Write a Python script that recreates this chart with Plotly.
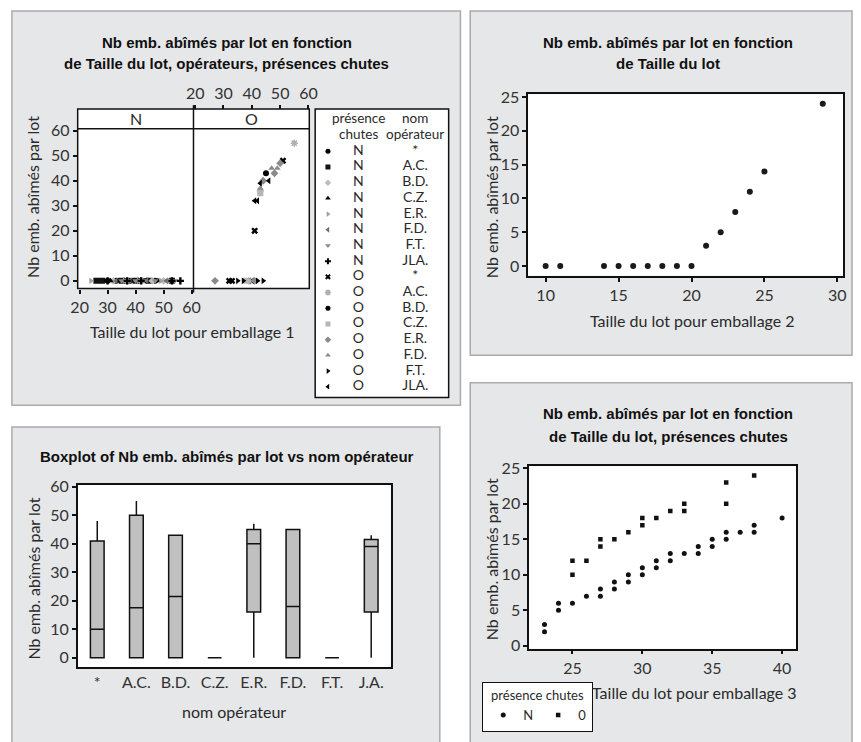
import plotly.graph_objects as go

# ---------------------------------------------------------------- data
operators = ["*", "A.C.", "B.D.", "C.Z.", "E.R.", "F.D.", "F.T.", "JLA."]

# Emballage 1, no falls (N): every lot had 0 damaged packages
p1_n_op = ["*", "*", "*", "*", "*", "*", "*",
           "A.C.", "A.C.", "A.C.", "A.C.", "A.C.", "A.C.",
           "B.D.", "B.D.", "B.D.", "B.D.", "B.D.",
           "C.Z.", "C.Z.", "C.Z.", "C.Z.", "C.Z.",
           "E.R.", "E.R.", "E.R.", "E.R.", "E.R.",
           "F.D.", "F.D.", "F.D.", "F.D.",
           "F.T.", "F.T.", "F.T.", "F.T.", "F.T.",
           "JLA.", "JLA.", "JLA.", "JLA.", "JLA."]
p1_n_size = [30, 33, 36, 38, 41, 44, 47,
             26, 28, 35, 40, 45, 53,
             32, 37, 42, 46, 50,
             31, 34, 39, 43, 48,
             24, 36, 41, 49, 52,
             33, 38, 44, 51,
             35, 40, 43, 47, 54,
             30, 37, 42, 53, 56]
p1_n_dmg = [0, 0, 0, 0, 0, 0, 0,
            0, 0, 0, 0, 0, 0,
            0, 0, 0, 0, 0,
            0, 0, 0, 0, 0,
            0, 0, 0, 0, 0,
            0, 0, 0, 0,
            0, 0, 0, 0, 0,
            0, 0, 0, 0, 0]

# Emballage 1, with falls (O)
p1_o_op = ["*", "*", "*", "*", "*",
           "A.C.", "A.C.", "A.C.",
           "B.D.",
           "C.Z.", "C.Z.",
           "E.R.", "E.R.", "E.R.", "E.R.", "E.R.",
           "F.D.", "F.D.", "F.D.",
           "F.T.", "F.T.", "F.T.", "F.T.",
           "JLA.", "JLA.", "JLA.", "JLA."]
p1_o_size = [41, 51, 32, 33, 40,
             55, 43, 39,
             45,
             43, 38,
             50, 48, 44, 27, 41,
             47, 49, 43,
             35, 37, 42, 44,
             46, 43, 42, 41]
p1_o_dmg = [20, 48, 0, 0, 0,
            55, 36, 0,
            43,
            35, 0,
            47, 43, 40, 0, 0,
            45, 45, 37,
            0, 0, 0, 0,
            40, 39, 32, 32]

# Emballage 2
p2_size = [10, 11, 14, 15, 16, 17, 18, 19, 20, 21, 22, 23, 24, 25, 29]
p2_dmg = [0, 0, 0, 0, 0, 0, 0, 0, 0, 3, 5, 8, 11, 14, 24]

# Boxplot by operator
box_ops = ["*", "A.C.", "B.D.", "C.Z.", "E.R.", "F.D.", "F.T.", "J.A."]
box_lo = [0, 0, 0, 0, 0, 0, 0, 0]
box_q1 = [0, 0, 0, 0, 16, 0, 0, 16]
box_med = [10, 17.5, 21.5, 0, 40, 18, 0, 39]
box_q3 = [41, 50, 43, 0, 45, 45, 0, 41.5]
box_hi = [48, 55, 43, 0, 47, 45, 0, 43]

# Emballage 3
p3_n_size = [23, 23, 24, 24, 25, 26, 27, 27, 28, 28, 29, 29, 30, 30, 31, 31,
             32, 32, 33, 34, 34, 35, 35, 36, 36, 37, 38, 38, 40]
p3_n_dmg = [2, 3, 5, 6, 6, 7, 7, 8, 8, 9, 9, 10, 10, 11, 11, 12,
            12, 13, 13, 13, 14, 14, 15, 15, 16, 16, 16, 17, 18]
p3_o_size = [25, 25, 26, 27, 27, 28, 29, 30, 30, 31, 32, 33, 33, 36, 36, 38]
p3_o_dmg = [10, 12, 12, 14, 15, 15, 16, 17, 18, 18, 19, 19, 20, 20, 23, 24]

# ---------------------------------------------------------------- helpers
W, H = 861, 742


def fx(p):
    return p / W


def fy(p):
    return 1 - p / H


LIGHT = "Lato, sans-serif"
BOLD = "Liberation Sans, Arial, sans-serif"
PANEL_BG = "#e6e7e8"
PANEL_EDGE = "#a9abae"
TXT = "#2a2a2a"

style_n = {"*": ("circle", "#000000"), "A.C.": ("square", "#111111"),
           "B.D.": ("diamond", "#bdbdbd"), "C.Z.": ("triangle-up", "#000000"),
           "E.R.": ("triangle-right", "#a0a0a0"), "F.D.": ("triangle-left", "#6e6e6e"),
           "F.T.": ("triangle-down", "#8a8a8a"), "JLA.": ("cross", "#000000")}
style_o = {"*": ("x", "#000000"), "A.C.": ("asterisk-open", "#b0b0b0"),
           "B.D.": ("circle", "#000000"), "C.Z.": ("square", "#b5b5b5"),
           "E.R.": ("diamond", "#8a8a8a"), "F.D.": ("triangle-up", "#8a8a8a"),
           "F.T.": ("triangle-right", "#000000"), "JLA.": ("triangle-left", "#000000")}


def marker_for(sym, col, size=6):
    m = dict(symbol=sym, color=col, size=size, line=dict(width=0, color=col))
    if sym == "asterisk-open":
        m["line"] = dict(width=1.5, color=col)
    return m


fig = go.Figure()

# ---------------------------------------------------------------- panel 1
for op in operators:
    xs = [x for o, x in zip(p1_n_op, p1_n_size) if o == op]
    ys = [y for o, y in zip(p1_n_op, p1_n_dmg) if o == op]
    sym, col = style_n[op]
    fig.add_trace(go.Scatter(x=xs, y=ys, mode="markers", xaxis="x", yaxis="y",
                             marker=marker_for(sym, col), showlegend=False,
                             hoverinfo="skip"))
for op in operators:
    xs = [x for o, x in zip(p1_o_op, p1_o_size) if o == op]
    ys = [y for o, y in zip(p1_o_op, p1_o_dmg) if o == op]
    sym, col = style_o[op]
    fig.add_trace(go.Scatter(x=xs, y=ys, mode="markers", xaxis="x2", yaxis="y2",
                             marker=marker_for(sym, col), showlegend=False,
                             hoverinfo="skip"))

# table-style key for panel 1 (symbol, presence, operator)
key_rows = [("N", op) for op in operators] + [("O", op) for op in operators]
key_idx = [-i for i in range(len(key_rows))]
for i, (pres, op) in enumerate(key_rows):
    sym, col = (style_n if pres == "N" else style_o)[op]
    fig.add_trace(go.Scatter(x=[13], y=[key_idx[i]], mode="markers",
                             xaxis="x6", yaxis="y6", marker=marker_for(sym, col, 5),
                             showlegend=False, hoverinfo="skip"))
fig.add_trace(go.Scatter(x=[44] * len(key_rows), y=key_idx, mode="text",
                         text=[r[0] for r in key_rows], xaxis="x6", yaxis="y6",
                         textfont=dict(family=LIGHT, size=14, color=TXT),
                         showlegend=False, hoverinfo="skip"))
fig.add_trace(go.Scatter(x=[102] * len(key_rows), y=key_idx, mode="text",
                         text=[r[1] for r in key_rows], xaxis="x6", yaxis="y6",
                         textfont=dict(family=LIGHT, size=14, color=TXT),
                         showlegend=False, hoverinfo="skip"))

# ---------------------------------------------------------------- panel 2
fig.add_trace(go.Scatter(x=p2_size, y=p2_dmg, mode="markers", xaxis="x3", yaxis="y3",
                         marker=dict(symbol="circle", size=6, color="#1a1a1a"),
                         showlegend=False, hoverinfo="skip"))

# ---------------------------------------------------------------- panel 3
fig.add_trace(go.Box(x=box_ops, q1=box_q1, median=box_med, q3=box_q3,
                     lowerfence=box_lo, upperfence=box_hi,
                     xaxis="x4", yaxis="y4", width=0.35, whiskerwidth=0,
                     fillcolor="#c0c0c0", line=dict(color="#111111", width=1.5),
                     showlegend=False, hoverinfo="skip", boxpoints=False))

# ---------------------------------------------------------------- panel 4
fig.add_trace(go.Scatter(x=p3_n_size, y=p3_n_dmg, mode="markers", xaxis="x5", yaxis="y5",
                         name="N", marker=dict(symbol="circle", size=5, color="#111"),
                         hoverinfo="skip"))
fig.add_trace(go.Scatter(x=p3_o_size, y=p3_o_dmg, mode="markers", xaxis="x5", yaxis="y5",
                         name="0", marker=dict(symbol="square", size=4.5, color="#111"),
                         hoverinfo="skip"))

# ---------------------------------------------------------------- axes
tick_font = dict(family=LIGHT, size=16, color="#333")
base_ax = dict(showgrid=False, zeroline=False, ticks="outside", ticklen=4,
               tickwidth=1.5, tickcolor="#111", tickfont=tick_font)
framed = dict(showline=True, mirror=True, linecolor="#111", linewidth=1.5)

fig.update_layout(
    xaxis=dict(base_ax, domain=[fx(71), fx(189)], range=[19.3, 60.7], anchor="y",
               tickvals=[20, 30, 40, 50, 60], showline=False),
    yaxis=dict(base_ax, domain=[fy(286), fy(123)], range=[-3.1, 60.8], anchor="x",
               tickvals=[0, 10, 20, 30, 40, 50, 60], showline=False),
    xaxis2=dict(base_ax, domain=[fx(189), fx(307)], range=[19.4, 60.3], anchor="free",
                position=fy(103), side="top", tickvals=[20, 30, 40, 50, 60],
                showline=False),
    yaxis2=dict(domain=[fy(286), fy(123)], range=[-3.1, 60.8], anchor="x2",
                showgrid=False, zeroline=False, showticklabels=False, ticks="",
                showline=False),
    xaxis6=dict(domain=[fx(313), fx(449)], range=[0, 136], anchor="y6", visible=False),
    yaxis6=dict(domain=[fy(397), fy(103)], range=[-15.6875, 2.6875], anchor="x6",
                visible=False),
    xaxis3=dict(base_ax, **framed, domain=[fx(530), fx(851)], range=[8.8, 30.4],
                anchor="y3", tickvals=[10, 15, 20, 25, 30]),
    yaxis3=dict(base_ax, **framed, domain=[fy(273), fy(88)], range=[-1.45, 25.4],
                anchor="x3", tickvals=[0, 5, 10, 15, 20, 25]),
    xaxis4=dict(base_ax, **framed, domain=[fx(71), fx(390)], range=[-0.5, 7.5],
                anchor="y4", type="category", categoryorder="array",
                categoryarray=box_ops, ticks=""),
    yaxis4=dict(base_ax, **framed, domain=[fy(672), fy(486)], range=[-3.4, 60.7],
                anchor="x4", tickvals=[0, 10, 20, 30, 40, 50, 60]),
    xaxis5=dict(base_ax, **framed, domain=[fx(531), fx(803)], range=[21.9, 41.0],
                anchor="y5", tickvals=[25, 30, 35, 40]),
    yaxis5=dict(base_ax, **framed, domain=[fy(653), fy(467)], range=[-0.4, 25.3],
                anchor="x5", tickvals=[0, 5, 10, 15, 20, 25]),
)

# ---------------------------------------------------------------- shapes
shapes = []
for (x0, y0, x1, y1) in [(4, 3, 461, 405), (471, 3, 860, 354),
                         (4, 427, 440, 760), (471, 382, 860, 760)]:
    shapes.append(dict(type="rect", xref="paper", yref="paper", layer="below",
                       x0=fx(x0), x1=fx(x1), y0=fy(y1), y1=fy(y0),
                       fillcolor=PANEL_BG, line=dict(color=PANEL_EDGE, width=1.5)))
# white plotting areas
shapes.append(dict(type="rect", xref="paper", yref="paper", layer="below",
                   x0=fx(71), x1=fx(307), y0=fy(286), y1=fy(103),
                   fillcolor="white", line=dict(width=0)))
shapes.append(dict(type="rect", xref="paper", yref="paper", layer="below",
                   x0=fx(313), x1=fx(449), y0=fy(397), y1=fy(103),
                   fillcolor="white", line=dict(color="#111", width=1.5)))
for ax in ["x3", "x4", "x5"]:
    ay = "y" + ax[1:]
    shapes.append(dict(type="rect", xref=ax + " domain", yref=ay + " domain",
                       layer="below", x0=0, x1=1, y0=0, y1=1,
                       fillcolor="white", line=dict(width=0)))
# facet frame, strip and divider of panel 1
shapes.append(dict(type="rect", xref="paper", yref="paper", layer="above",
                   x0=fx(71), x1=fx(307), y0=fy(286), y1=fy(103),
                   line=dict(color="#111", width=1.5)))
shapes.append(dict(type="line", xref="paper", yref="paper", layer="above",
                   x0=fx(71), x1=fx(307), y0=fy(123), y1=fy(123),
                   line=dict(color="#111", width=1.5)))
shapes.append(dict(type="line", xref="paper", yref="paper", layer="above",
                   x0=fx(189), x1=fx(189), y0=fy(290), y1=fy(99),
                   line=dict(color="#111", width=1.5)))

# ---------------------------------------------------------------- text
ann = []


def txt(x, y, s, size=16, family=LIGHT, bold=False, angle=0, color=TXT):
    ann.append(dict(x=fx(x), y=fy(y), xref="paper", yref="paper", text=s,
                    showarrow=False, xanchor="center", yanchor="middle",
                    textangle=angle,
                    font=dict(family=family, size=size, color=color,
                              weight="bold" if bold else "normal")))


# titles
txt(223, 35, "Nb emb. abîmés par lot en fonction", 15, BOLD, True, color="#111")
txt(223, 57, "de Taille du lot, opérateurs, présences chutes", 15, BOLD, True, color="#111")
txt(672, 35, "Nb emb. abîmés par lot en fonction", 15, BOLD, True, color="#111")
txt(672, 57, "de Taille du lot", 15, BOLD, True, color="#111")
txt(223, 457, "Boxplot of Nb emb. abîmés par lot vs nom opérateur", 15, BOLD, True, color="#111")
txt(673, 413, "Nb emb. abîmés par lot en fonction", 15, BOLD, True, color="#111")
txt(673, 437, "de Taille du lot, présences chutes", 15, BOLD, True, color="#111")

# axis titles
ytitle = "Nb emb. abîmés par lot"
txt(25, 193, ytitle, angle=-90)
txt(493, 193, ytitle, angle=-90)
txt(25, 582, ytitle, angle=-90)
txt(493, 562, ytitle, angle=-90)
txt(188, 330, "Taille du lot pour emballage 1")
txt(697, 319, "Taille du lot pour emballage 2")
txt(230, 717, "nom opérateur")
txt(699, 698, "Taille du lot pour emballage 3")

# strip labels and key header
txt(130, 113, "N", 16)
txt(248, 113, "O", 16)
txt(357, 112, "présence", 13.5)
txt(357, 128, "chutes", 13.5)
txt(415, 112, "nom", 13.5)
txt(415, 128, "opérateur", 13.5)

fig.update_layout(
    width=W, height=H, autosize=False,
    margin=dict(l=0, r=0, t=0, b=0),
    paper_bgcolor="white", plot_bgcolor="rgba(0,0,0,0)",
    shapes=shapes, annotations=ann,
    showlegend=True,
    legend=dict(x=fx(483), y=fy(687), xanchor="left", yanchor="top",
                orientation="h", bgcolor="white", bordercolor="#111", borderwidth=1.2,
                font=dict(family=LIGHT, size=13, color=TXT),
                title=dict(text="présence chutes", side="top center",
                           font=dict(family=LIGHT, size=13, color=TXT)),
                itemwidth=30, tracegroupgap=0),
)

fig.write_html("out.html")
